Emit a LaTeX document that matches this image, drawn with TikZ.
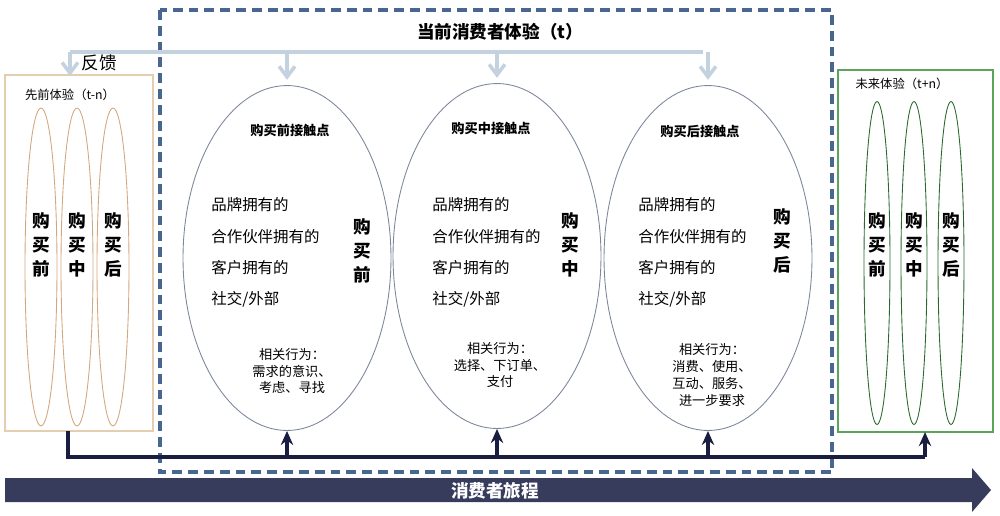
\documentclass[tikz,border=0pt]{standalone}
\usepackage{fontspec}
\setmainfont{Noto Sans CJK SC}
\usetikzlibrary{arrows.meta,shapes.geometric}

\definecolor{tanline}{RGB}{228,206,176}
\definecolor{tanoval}{RGB}{210,168,128}
\definecolor{greenline}{RGB}{90,165,90}
\definecolor{greenoval}{RGB}{40,105,45}
\definecolor{dashblue}{RGB}{72,102,145}
\definecolor{feedgray}{RGB}{196,210,224}
\definecolor{navy}{RGB}{25,30,65}
\definecolor{journey}{RGB}{55,60,92}
\definecolor{ovalgray}{RGB}{125,135,155}

\tikzset{
  bigoval/.style={ellipse, draw=ovalgray, line width=0.5pt, minimum width=4.16cm, minimum height=6.9cm, inner sep=0pt},
  prevoval/.style={ellipse, draw=tanoval, line width=0.5pt, minimum width=0.64cm, minimum height=6.36cm, inner sep=0pt},
  nextoval/.style={ellipse, draw=greenoval, line width=0.5pt, minimum width=0.52cm, minimum height=6.46cm, inner sep=0pt},
  stagelbl/.style={align=center, font=\fontsize{10}{13.5}\selectfont\bfseries},
  headlbl/.style={font=\fontsize{7.5}{9}\selectfont\bfseries},
  itemlbl/.style={anchor=west, inner sep=0pt, font=\fontsize{8.8}{10}\selectfont},
  actlbl/.style={align=center, font=\fontsize{7.5}{9.6}\selectfont},
  feed/.style={feedgray, line width=2.4pt},
  feedtip/.style={-{Straight Barb[length=6pt, width=9pt, line width=2pt]}},
  base/.style={navy, line width=2.4pt},
}

\begin{document}
\begin{tikzpicture}[x=0.02cm, y=-0.02cm]
  \useasboundingbox (0,0) rectangle (1000,515);

  % boxes
  \draw[tanline, line width=0.7pt] (5,75) rectangle (153,431);
  \draw[greenline, line width=0.7pt] (838,70) rectangle (993,432);
  \draw[dashblue, line width=2.2pt, dash pattern=on 5.6pt off 3.4pt] (160,10) rectangle (832,472);

  \node[font=\fontsize{10}{12}\selectfont\bfseries] (title) at (500,32) {当前消费者体验（t）};
  \node[font=\fontsize{7}{8}\selectfont] (prevlbl) at (70,95) {先前体验（t-n）};
  \node[font=\fontsize{7}{8}\selectfont] (nextlbl) at (902,84) {未来体验（t+n）};
  \node[font=\fontsize{10}{12}\selectfont] (feedlbl) at (99,63) {反馈};

  % previous experience
  \foreach \x/\s [count=\i] in {41/前, 77/中, 113/后} {
    \node[prevoval] (prev\i) at (\x,267) {};
    \node[stagelbl] at (\x,245) {购\\买\\\s};
  }

  % future experience
  \foreach \x/\s [count=\i] in {877/前, 914/中, 951/后} {
    \node[nextoval] (next\i) at (\x,263) {};
    \node[stagelbl] at (\x,245) {购\\买\\\s};
  }

  % current experience
  \node[bigoval] (pre) at (287,258) {};
  \node[bigoval] (mid) at (497,256) {};
  \node[bigoval] (post) at (708,258) {};

  \node[headlbl] at (290,130) {购买前接触点};
  \node[headlbl] at (491,128) {购买中接触点};
  \node[headlbl] at (700,131) {购买后接触点};

  \foreach \x in {211, 432, 638} {
    \node[itemlbl] at (\x,205) {品牌拥有的};
    \node[itemlbl] at (\x,237) {合作伙伴拥有的};
    \node[itemlbl] at (\x,268) {客户拥有的};
    \node[itemlbl] at (\x,299) {社交/外部};
  }

  \node[stagelbl] at (362,251) {购\\买\\前};
  \node[stagelbl] at (570,245) {购\\买\\中};
  \node[stagelbl] at (782,241) {购\\买\\后};

  \node[actlbl] at (292,371) {相关行为：\\需求的意识、\\考虑、寻找};
  \node[actlbl] at (500,365) {相关行为：\\选择、下订单、\\支付};
  \node[actlbl] at (712,375) {相关行为：\\消费、使用、\\互动、服务、\\进一步要求};

  % feedback
  \coordinate (fbL) at (70,52);
  \coordinate (fbR) at (703,52);
  \draw[feed] (fbL) -- (fbR);
  \draw[feed, feedtip] (fbL) -- (70,76);
  \foreach \n in {pre, mid, post}
    \draw[feed, feedtip] (\n.north |- fbL) -- ([yshift=3pt]\n.north);

  % journey line
  \coordinate (jL) at (68,431);
  \coordinate (jR) at (925,457);
  \draw[base] (jL) |- (jR);
  \foreach \n in {pre, mid, post}
    \draw[base, -{Stealth[length=8pt, width=7pt]}] (\n.south |- jR) -- (\n.south);
  \draw[base, -{Stealth[length=8pt, width=7pt]}] (jR) -- (925,432);

  % consumer journey arrow
  \fill[journey] (5,478) -- (972,478) -- (972,468) -- (991,490) -- (972,512) -- (972,502) -- (5,502) -- cycle;
  \node[white, font=\fontsize{10}{12}\selectfont\bfseries] (journeylbl) at (495,491) {消费者旅程};
\end{tikzpicture}
\end{document}
